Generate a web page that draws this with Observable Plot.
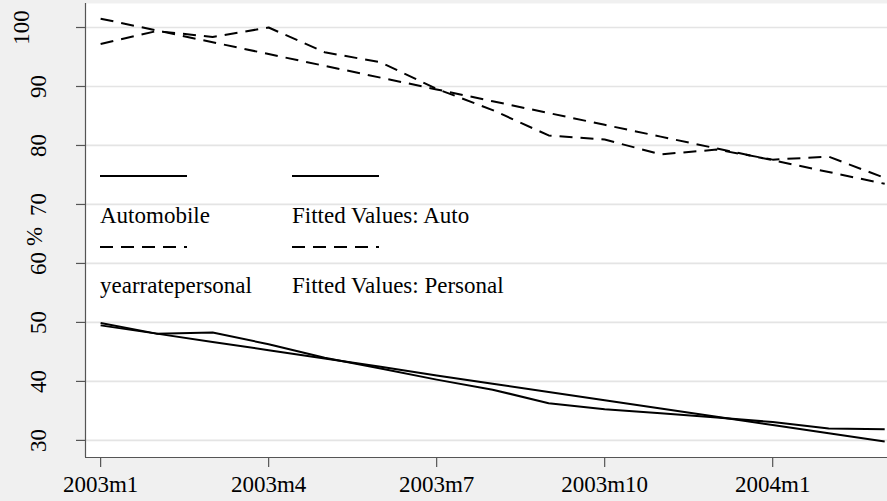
<!DOCTYPE html>
<html><head><meta charset="utf-8">
<script src="https://cdn.jsdelivr.net/npm/d3@7"></script>
<script src="https://cdn.jsdelivr.net/npm/@observablehq/plot@0.6"></script>
<style>
html,body{margin:0;padding:0;background:#f0f0f0;}
#chart{width:887px;height:501px;overflow:hidden;}
</style></head><body><div id="chart"></div>
<script>
// ---- data ----
const months = ["2003m1","2003m2","2003m3","2003m4","2003m5","2003m6","2003m7","2003m8","2003m9","2003m10","2003m11","2003m12","2004m1","2004m2","2004m3"];
const automobile = [49.9, 48.1, 48.3, 46.3, 44.0, 42.2, 40.3, 38.6, 36.3, 35.3, 34.6, 33.9, 33.1, 32.0, 31.9];
const fittedAuto = [49.5, 48.1, 46.7, 45.3, 43.9, 42.5, 41.0, 39.6, 38.2, 36.8, 35.4, 34.0, 32.6, 31.2, 29.8];
const yearratepersonal = [97.2, 99.4, 98.4, 100.0, 95.8, 94.1, 89.6, 86.0, 81.7, 81.0, 78.5, 79.3, 77.6, 78.1, 74.5];
const fittedPersonal = [101.5, 99.5, 97.5, 95.5, 93.5, 91.5, 89.5, 87.5, 85.5, 83.5, 81.5, 79.5, 77.5, 75.5, 73.5];
const xTickLabels = ["2003m1","2003m4","2003m7","2003m10","2004m1"];
const yTicks = [30, 40, 50, 60, 70, 80, 90, 100];
const yTitle = "%";
const legendLabels = ["Automobile", "Fitted Values: Auto", "yearratepersonal", "Fitted Values: Personal"];

const rows = months.map((m, i) => ({
  i, m,
  auto: automobile[i], fauto: fittedAuto[i],
  pers: yearratepersonal[i], fpers: fittedPersonal[i]
}));
const xTicks = xTickLabels.map(l => months.indexOf(l));
const xDomain = [-0.27, 14.05];
const yDomain = [27.1, 104.07];
const DASH = "13,8";
const FONT = "'Liberation Serif','Times New Roman',serif";
const FS = 23;

function legendMark(index, scales, values, dims) {
  const g = d3.create("svg:g")
    .attr("font-family", FONT)
    .style("font-size", FS + "px")
    .attr("text-anchor", "start");
  const ox = dims.marginLeft, oy = dims.marginTop;
  const cols = [15, 207], lineY = [173, 244], textY = [220, 290];
  const dashes = [null, DASH];
  for (let r = 0; r < 2; r++) {
    for (let c = 0; c < 2; c++) {
      g.append("line")
        .attr("x1", ox + cols[c]).attr("x2", ox + cols[c] + 87)
        .attr("y1", oy + lineY[r]).attr("y2", oy + lineY[r])
        .attr("stroke", "black").attr("stroke-width", 2)
        .attr("stroke-dasharray", dashes[r]);
      g.append("text")
        .attr("x", ox + cols[c]).attr("y", oy + textY[r])
        .attr("fill", "black")
        .attr("text-anchor", "start")
        .text(legendLabels[r * 2 + c]);
    }
  }
  return g.node();
}

const chart = Plot.plot({
  width: 887,
  height: 501,
  marginLeft: 85,
  marginRight: 0,
  marginTop: 3,
  marginBottom: 44,
  style: {fontFamily: FONT, fontSize: FS + "px", background: "#f0f0f0", color: "black", overflow: "visible"},
  x: {type: "linear", domain: xDomain, axis: null},
  y: {domain: yDomain, axis: null},
  marks: [
    Plot.frame({fill: "white", stroke: "none"}),
    Plot.gridY(yTicks, {stroke: "#e4e4e4", strokeWidth: 1.7, strokeOpacity: 1}),
    Plot.ruleX([xDomain[0]], {stroke: "#555", strokeWidth: 1.2}),
    Plot.ruleY([yDomain[0]], {stroke: "#555", strokeWidth: 1.2}),
    Plot.axisY(yTicks, {tickSize: 9, tickFormat: () => "", stroke: "#555", strokeWidth: 1.2, label: null}),
    Plot.text(yTicks.filter(d => d < 100), {y: d => d, text: d => String(d), frameAnchor: "left", dx: -40, rotate: -90, textAnchor: "middle", lineAnchor: "bottom", fontSize: FS, fill: "black"}),
    Plot.text(yTicks.filter(d => d >= 100), {y: d => d, text: d => String(d), frameAnchor: "left", dx: -57, rotate: -90, textAnchor: "middle", lineAnchor: "bottom", fontSize: FS, fill: "black"}),
    Plot.text([yTitle], {text: d => d, frameAnchor: "left", dx: -44, dy: 6, rotate: -90, textAnchor: "middle", lineAnchor: "bottom", fontSize: FS, fill: "black"}),
    Plot.axisX(xTicks, {tickSize: 10, tickPadding: 8, tickFormat: i => months[i], stroke: "#555", strokeWidth: 1.2, fontSize: FS, label: null}),
    Plot.line(rows, {x: "i", y: "pers", stroke: "black", strokeWidth: 2, strokeDasharray: DASH, strokeLinecap: "butt"}),
    Plot.line(rows, {x: "i", y: "fpers", stroke: "black", strokeWidth: 2, strokeDasharray: DASH, strokeLinecap: "butt"}),
    Plot.line(rows, {x: "i", y: "auto", stroke: "black", strokeWidth: 2, strokeLinecap: "butt"}),
    Plot.line(rows, {x: "i", y: "fauto", stroke: "black", strokeWidth: 2, strokeLinecap: "butt"}),
    legendMark
  ]
});
document.getElementById("chart").appendChild(chart);
</script>
</body></html>
